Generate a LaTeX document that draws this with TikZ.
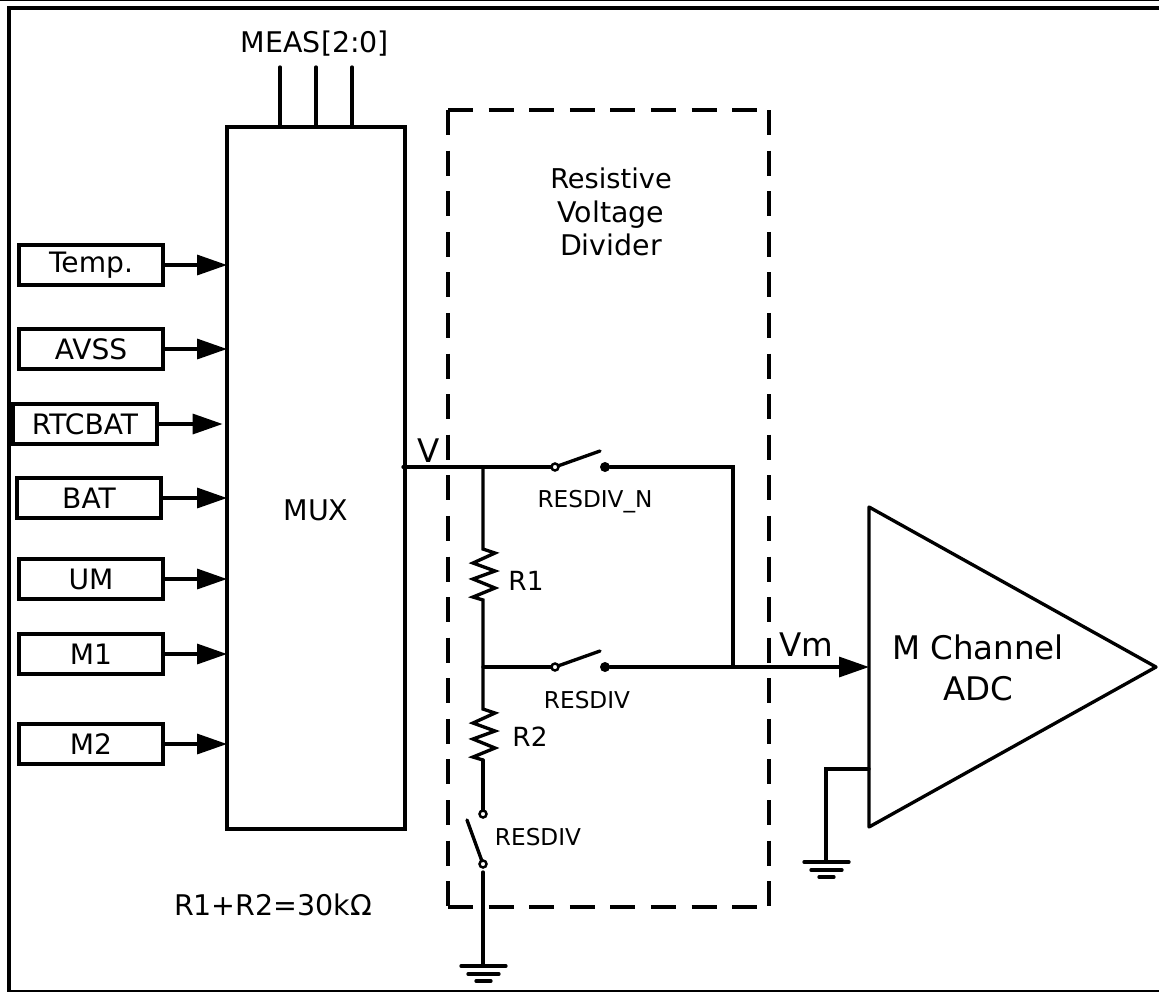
\documentclass[tikz,border=0pt]{standalone}
\usepackage{fontspec}
\setmainfont{DejaVu Sans}
\usetikzlibrary{arrows.meta,positioning,calc}

\begin{document}
\begin{tikzpicture}[
  x=0.02cm, y=-0.02cm, line width=1.9pt, line cap=round,
  srcbox/.style={draw, rectangle, minimum width=2.88cm, minimum height=0.8cm,
                 inner sep=0pt, outer sep=0pt, font=\fontsize{16}{19}\selectfont},
  swopen/.style={circle, draw, fill=white, line width=1.4pt, minimum size=0.14cm,
                 inner sep=0pt, outer sep=0pt},
  swdot/.style={circle, fill=black, minimum size=0.2cm, inner sep=0pt, outer sep=0pt},
  small/.style={font=\fontsize{13.2}{16}\selectfont, inner sep=0pt},
  mid/.style={font=\fontsize{16.2}{19}\selectfont, inner sep=0pt},
  big/.style={font=\fontsize{18.5}{23.2}\selectfont, inner sep=0pt},
  sig/.style={-{Triangle[length=0.6cm,width=0.4cm]}},
  divline/.style={dash pattern=on 0.5cm off 0.312cm, line cap=butt},
]
\useasboundingbox (0,0) rectangle (1159,992);

% outer frame
\draw[line width=0.6pt] (0,0.5) -- (1159,0.5);
\draw[line width=2.3pt, line cap=butt] (1159,8) -- (9,8) -- (9,991);
\draw[line width=1.2pt, line cap=butt] (7,991) -- (1159,991);

% mux and its inputs
\node[draw, rectangle, minimum width=3.56cm, minimum height=14.04cm, inner sep=0pt,
      outer sep=0pt] (mux) at (316,478) {};
\node[mid] (muxlabel) at (316,510) {MUX};

\node[srcbox] (temp) at (91,265) {Temp.};
\node[srcbox] (avss) at (91,349) {AVSS};
\node[srcbox] (rtcbat) at (85,424) {RTCBAT};
\node[srcbox] (bat) at (89,498) {BAT};
\node[srcbox] (um) at (91,579) {UM};
\node[srcbox] (m1) at (91,654) {M1};
\node[srcbox] (m2) at (91,744) {M2};

\draw[sig] (temp) -- (temp -| mux.west);
\draw[sig] (avss) -- (avss -| mux.west);
\draw[sig, shorten >=2.5pt] (rtcbat) -- (rtcbat -| mux.west);
\draw[sig] (bat) -- (bat -| mux.west);
\draw[sig] (um) -- (um -| mux.west);
\draw[sig] (m1) -- (m1 -| mux.west);
\draw[sig] (m2) -- (m2 -| mux.west);

% select lines
\node[mid] (meas) at (315,44) {MEAS[2:0]};
\coordinate (sel0) at (280,67);
\coordinate (sel1) at (316,67);
\coordinate (sel2) at (352,67);
\draw (sel0) -- (sel0 |- mux.north);
\draw (sel1) -- (sel1 |- mux.north);
\draw (sel2) -- (sel2 |- mux.north);

% divider box
\coordinate (divtl) at (448,110);
\coordinate (divtr) at (769,110);
\coordinate (divbl) at (448,907);
\coordinate (divbr) at (769,907);
\draw[divline] (divtl) -- (divbl);
\draw[divline] (divbl) -- (divbr);
\draw[divline] (divtr) -- (divbr);
\draw[divline] (divtl) -- (divtr);
\node[mid, align=center] (title) at (611,212) {\fontsize{15.5}{19.4}\selectfont Resistive\\Voltage\\Divider};

% upper branch
\coordinate (vout) at (403,467);
\coordinate (vtap) at (483,467);
\node[swopen] (s1a) at (555,467) {};
\node[swdot] (s1b) at (605,467) {};
\coordinate (s1t) at (600,451);
\coordinate (vm) at (733,667);
\draw (vout) -- (s1a);
\draw (s1a) -- (s1t);
\draw (s1b) -| (vm);
\node[big] (vlabel) at (429,451) {V};
\node[small] (s1label) at (595,502) {RESDIV\_N};

% lower branch
\coordinate (mtap) at (483,667);
\node[swopen] (s2a) at (555,667) {};
\node[swdot] (s2b) at (605,667) {};
\coordinate (s2t) at (600,651);
\draw (mtap) -- (s2a);
\draw (s2a) -- (s2t);
\node[small] (s2label) at (587,700) {RESDIV};

% resistors
\coordinate (r1t) at (483,549);
\coordinate (r1b) at (483,600);
\coordinate (r2t) at (483,709);
\coordinate (r2b) at (483,760);
\draw (vtap) -- (r1t) -- ++(12,4) -- ++(-22,10) -- ++(22,8) -- ++(-22,8) -- ++(22,9)
  -- ++(-22,9) -- (r1b) -- (r2t) -- ++(12,4) -- ++(-22,10) -- ++(22,8) -- ++(-22,8)
  -- ++(22,9) -- ++(-22,9) -- (r2b);
\node[font=\fontsize{15}{18}\selectfont, inner sep=0pt] (r1) at (526,581) {R1};
\node[font=\fontsize{15}{18}\selectfont, inner sep=0pt] (r2) at (530,737) {R2};

% bottom switch
\node[swopen] (s3a) at (483,814) {};
\node[swopen] (s3b) at (483,864) {};
\coordinate (s3t) at (467,820);
\draw (r2b) -- (s3a);
\draw (s3b) -- (s3t);
\node[small] (s3label) at (538,837) {RESDIV};
\coordinate (gnd1) at (483,966);
\draw (483,872) -- (gnd1);
\draw (461,966) -- (506,966);
\draw (468,974) -- (499,974);
\draw (476,981) -- (491,981);

\node[mid] (rsum) at (273,905) {R1+R2=30kΩ};

% adc
\coordinate (adca) at (869,507);
\coordinate (adcb) at (1156,667);
\coordinate (adcc) at (869,827);
\draw[line join=round] (adca) -- (adcb) -- (adcc) -- cycle;
\node[big, align=center] (adc) at (978,668) {M Channel\\ADC};
\draw (s2b) -- (vm);
\draw[sig] (vm) -- (vm -| adca);
\node[big] (vmlabel) at (806,645) {Vm};
\coordinate (adcg) at (869,769);
\coordinate (gnd2) at (826,862);
\draw (adcg) -| (gnd2);
\draw (804,862) -- (849,862);
\draw (811,870) -- (842,870);
\draw (819,877) -- (834,877);

\end{tikzpicture}
\end{document}
